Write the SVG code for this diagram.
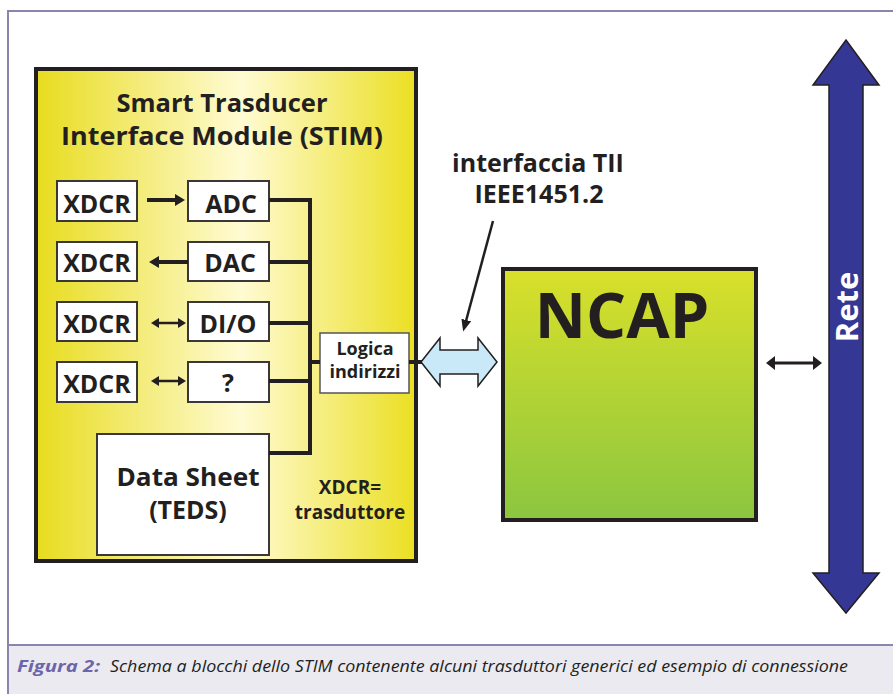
<svg xmlns="http://www.w3.org/2000/svg" width="893" height="694" viewBox="0 0 893 694">
<style>
.t{font-family:"Open Sans","Liberation Sans",sans-serif;font-weight:700;fill:#231f20;text-anchor:middle}
.box{fill:#fff;stroke:#3a3738;stroke-width:2}
.bus{fill:none;stroke:#231f20;stroke-width:4}
.ar{fill:none;stroke:#231f20}
</style>
<defs>
<linearGradient id="gS" x1="0" y1="0" x2="1" y2="0">
<stop offset="0" stop-color="#e8dc1e"/>
<stop offset="0.54" stop-color="#fffbd3"/>
<stop offset="1" stop-color="#ebdf22"/>
</linearGradient>
<linearGradient id="gN" x1="0" y1="0" x2="0" y2="1">
<stop offset="0" stop-color="#d9e02a"/>
<stop offset="1" stop-color="#8bc640"/>
</linearGradient>
<marker id="hB" viewBox="0 -6 10 12" refX="1" refY="0" markerWidth="10" markerHeight="12" markerUnits="userSpaceOnUse" orient="auto-start-reverse"><path d="M0,-6 L10,0 L0,6 z" fill="#231f20"/></marker>
<marker id="hS" viewBox="0 -5 8 10" refX="1" refY="0" markerWidth="8" markerHeight="10" markerUnits="userSpaceOnUse" orient="auto-start-reverse"><path d="M0,-5 L8,0 L0,5 z" fill="#231f20"/></marker>
<marker id="hM" viewBox="0 -7 9 14" refX="1" refY="0" markerWidth="9" markerHeight="14" markerUnits="userSpaceOnUse" orient="auto-start-reverse"><path d="M0,-7 L9,0 L0,7 z" fill="#231f20"/></marker>
<marker id="hP" viewBox="0 -5 12 10" refX="1" refY="0" markerWidth="12" markerHeight="10" markerUnits="userSpaceOnUse" orient="auto"><path d="M0,-5 L12,0 L0,5 z" fill="#231f20"/></marker>
</defs>

<g id="frame">
<rect x="9" y="646" width="884" height="48" fill="#ebeaf1"/>
<path d="M893,11 H8 V694 M8,645 H893" fill="none" stroke="#8a85ac" stroke-width="2"/>
</g>

<g id="stim">
<rect x="36" y="69" width="380" height="492" fill="url(#gS)" stroke="#231f20" stroke-width="4"/>
<text class="t" x="222" y="112" font-size="25" textLength="211" lengthAdjust="spacingAndGlyphs">Smart Trasducer</text>
<text class="t" x="222" y="145" font-size="25" textLength="322" lengthAdjust="spacingAndGlyphs">Interface Module (STIM)</text>
<text class="t" x="350" y="494" font-size="19">XDCR=</text>
<text class="t" x="350" y="519" font-size="19">trasduttore</text>
</g>

<g id="xdcr1"><rect class="box" x="57" y="181" width="80" height="40"/><text class="t" x="97" y="213" font-size="25">XDCR</text></g>
<g id="xdcr2"><rect class="box" x="57" y="242" width="80" height="39"/><text class="t" x="97" y="272" font-size="25">XDCR</text></g>
<g id="xdcr3"><rect class="box" x="57" y="302" width="80" height="39"/><text class="t" x="97" y="333" font-size="25">XDCR</text></g>
<g id="xdcr4"><rect class="box" x="57" y="362" width="80" height="40"/><text class="t" x="97" y="393" font-size="25">XDCR</text></g>

<g id="adc"><rect class="box" x="188" y="181" width="81" height="40"/><text class="t" x="231" y="213" font-size="25">ADC</text></g>
<g id="dac"><rect class="box" x="188" y="242" width="81" height="39"/><text class="t" x="230" y="272" font-size="25">DAC</text></g>
<g id="dio"><rect class="box" x="188" y="302" width="81" height="39"/><text class="t" x="228" y="333" font-size="25">DI/O</text></g>
<g id="unk"><rect class="box" x="188" y="362" width="81" height="40"/><text class="t" x="228" y="392" font-size="25">?</text></g>

<g id="teds"><rect class="box" x="97" y="434" width="172" height="121"/>
<text class="t" x="188" y="486" font-size="25" textLength="143" lengthAdjust="spacingAndGlyphs">Data Sheet</text>
<text class="t" x="188" y="519" font-size="25">(TEDS)</text></g>

<g id="logica"><rect x="320" y="333" width="89" height="60" fill="#fff" stroke="#555" stroke-width="1.5"/>
<text class="t" x="365" y="355" font-size="18">Logica</text>
<text class="t" x="365" y="378" font-size="18">indirizzi</text></g>

<g id="interface-label">
<text class="t" x="538" y="172" font-size="25">interfaccia TII</text>
<text class="t" x="539" y="203" font-size="25">IEEE1451.2</text>
</g>

<g id="ncap">
<rect x="503" y="269" width="253" height="251" fill="url(#gN)" stroke="#231f20" stroke-width="4"/>
<text class="t" x="622" y="338" font-size="63">NCAP</text>
</g>

<g id="rete">
<polygon points="846,40 879,85 863,85 863,573 879,573 846,613 813,573 829,573 829,85 813,85" fill="#353795" stroke="#231f20" stroke-width="1.5"/>
<text class="t" x="0" y="0" font-size="31" style="fill:#fff" transform="translate(858,307) rotate(-90)">Rete</text>
</g>

<g id="connectors">
<path class="bus" d="M269,200 H310 V453 H269"/>
<path class="bus" d="M269,262 H310 M269,323 H310 M269,381 H310 M310,362 H320 M409,362 H422"/>
<line class="ar" x1="147" y1="200" x2="176" y2="200" stroke-width="4" marker-end="url(#hB)"/>
<line class="ar" x1="188" y1="262" x2="158" y2="262" stroke-width="4" marker-end="url(#hB)"/>
<line class="ar" x1="158" y1="323" x2="179" y2="323" stroke-width="2.5" marker-start="url(#hS)" marker-end="url(#hS)"/>
<line class="ar" x1="158" y1="381" x2="179" y2="381" stroke-width="2.5" marker-start="url(#hS)" marker-end="url(#hS)"/>
<line class="ar" x1="774" y1="363" x2="814" y2="363" stroke-width="3" marker-start="url(#hM)" marker-end="url(#hM)"/>
<line class="ar" x1="493" y1="221" x2="466" y2="321" stroke-width="2.5" marker-end="url(#hP)"/>
<polygon id="tii-arrow" points="421,362 440,338 440,350 478,350 478,338 497,362 478,386 478,374 440,374 440,386" fill="#c9e9f9" stroke="#231f20" stroke-width="1.5"/>
</g>

<g id="caption">
<text x="17" y="672" font-family="'Open Sans','Liberation Sans',sans-serif" font-size="16" font-style="italic" font-weight="700" fill="#6b66aa" textLength="83" lengthAdjust="spacingAndGlyphs">Figura 2:</text>
<text x="110" y="672" font-family="'Open Sans','Liberation Sans',sans-serif" font-size="16" font-style="italic" fill="#231f20" textLength="738" lengthAdjust="spacingAndGlyphs">Schema a blocchi dello STIM contenente alcuni trasduttori generici ed esempio di connessione</text>
</g>
</svg>
